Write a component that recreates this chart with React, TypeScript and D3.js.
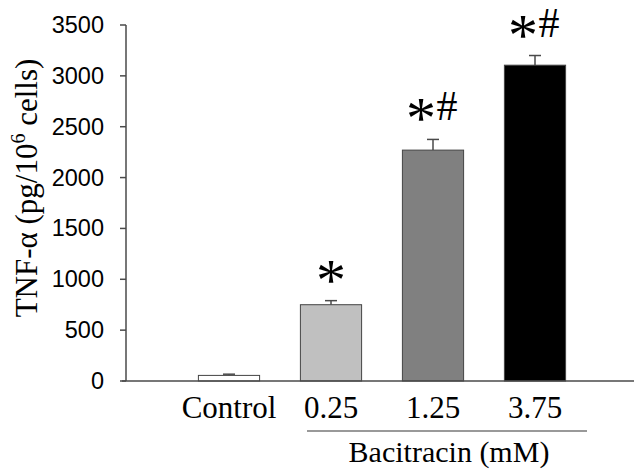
import React from "react";
import * as d3 from "d3";

const categories = ["Control", "0.25", "1.25", "3.75"];
const values = [55, 750, 2270, 3105];
const errors = [12, 40, 105, 95];
const fills = ["#ffffff", "#c0c0c0", "#808080", "#000000"];
const stars = ["", "*", "*", "*"];
const hashes = ["", "", "#", "#"];
const yTicks = [0, 500, 1000, 1500, 2000, 2500, 3000, 3500];

const W = 634;
const H = 470;
const axisX = 126;
const axisY = 381;

export default function App() {
  const y = d3.scaleLinear().domain([0, 3500]).range([axisY, 25]);
  const x = d3
    .scaleBand<string>()
    .domain(categories)
    .range([178, 586])
    .paddingInner(0.4)
    .paddingOuter(0.2);
  const bw = x.bandwidth();
  const serif = "'Liberation Serif', 'Times New Roman', serif";
  const sans = "'Liberation Sans', Arial, sans-serif";
  const axisColor = "#4a4a4a";

  return (
    <svg
      width={W}
      height={H}
      style={{ position: "absolute", left: 0, top: 0, background: "#fff" }}
    >
      {/* y axis */}
      <line x1={axisX} x2={axisX} y1={y(3500)} y2={axisY} stroke={axisColor} strokeWidth={1.5} />
      {yTicks.map((t) => (
        <g key={t}>
          <line x1={axisX - 6} x2={axisX} y1={y(t)} y2={y(t)} stroke={axisColor} strokeWidth={1.5} />
          <text
            x={104}
            y={y(t)}
            textAnchor="end"
            dominantBaseline="central"
            fontFamily={sans}
            fontSize={23.5}
            fill="#000"
          >
            {t}
          </text>
        </g>
      ))}
      {/* y title */}
      <text
        transform={`translate(37,188) rotate(-90)`}
        textAnchor="middle"
        fontFamily={serif}
        fontSize={31}
        fill="#000"
      >
        TNF-α (pg/10
        <tspan dy={-12} fontSize={20}>6</tspan>
        <tspan dy={12}> cells)</tspan>
      </text>

      {/* bars */}
      {categories.map((c, i) => {
        const x0 = x(c) as number;
        const cx = x0 + bw / 2;
        const top = y(values[i]);
        const cap = y(values[i] + errors[i]);
        return (
          <g key={c}>
            <line x1={cx} x2={cx} y1={top} y2={cap} stroke={axisColor} strokeWidth={1.5} />
            <line x1={cx - 6} x2={cx + 6} y1={cap} y2={cap} stroke={axisColor} strokeWidth={1.5} />
            <rect
              x={x0}
              y={top}
              width={bw}
              height={axisY - top}
              fill={fills[i]}
              stroke="#444"
              strokeWidth={1}
            />
            {stars[i] && (
              <text
                x={hashes[i] ? cx - 12 : cx}
                y={Math.max(cap - 1, 54)}
                textAnchor="middle"
                fontFamily={serif}
                fontSize={60}
                fill="#000"
              >
                {stars[i]}
              </text>
            )}
            {hashes[i] && (
              <text
                x={cx + 14}
                y={cap - 19}
                textAnchor="middle"
                fontFamily={serif}
                fontSize={42}
                fill="#000"
              >
                {hashes[i]}
              </text>
            )}
            <text
              x={cx}
              y={418}
              textAnchor="middle"
              fontFamily={serif}
              fontSize={31}
              fill="#000"
            >
              {c}
            </text>
          </g>
        );
      })}

      {/* x axis */}
      <line x1={axisX - 4} x2={W} y1={axisY} y2={axisY} stroke={axisColor} strokeWidth={1.5} />

      {/* bracket */}
      <line x1={307} x2={587} y1={431} y2={431} stroke="#777" strokeWidth={1.5} />
      <text
        x={449}
        y={462}
        textAnchor="middle"
        fontFamily={serif}
        fontSize={30}
        fill="#000"
      >
        Bacitracin (mM)
      </text>
    </svg>
  );
}
